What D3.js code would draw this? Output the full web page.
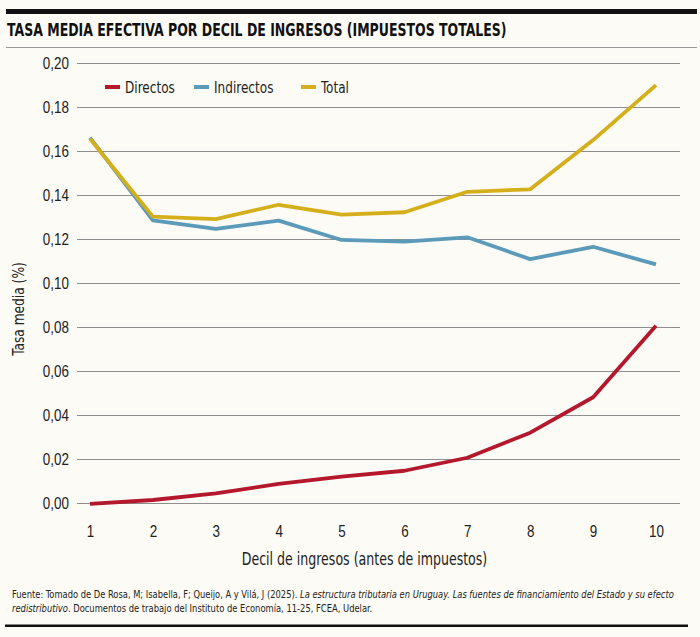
<!DOCTYPE html>
<html>
<head>
<meta charset="utf-8">
<script src="https://cdn.jsdelivr.net/npm/d3@7"></script>
<style>
  html, body { margin: 0; padding: 0; background: #fdfbf5; }
  svg { display: block; font-family: "Liberation Sans Narrow", "DejaVu Sans Condensed", sans-serif; }
</style>
</head>
<body>
<svg id="chart"></svg>
<script>
// data
const deciles = [1, 2, 3, 4, 5, 6, 7, 8, 9, 10];
const directos = [-0.0003, 0.0015, 0.0045, 0.0088, 0.0121, 0.0148, 0.0207, 0.0321, 0.0482, 0.0807];
const indirectos = [0.1662, 0.1286, 0.1247, 0.1285, 0.1197, 0.1189, 0.1209, 0.1110, 0.1166, 0.1086];
const total = [0.1657, 0.1303, 0.1292, 0.1357, 0.1312, 0.1323, 0.1416, 0.1427, 0.1651, 0.1901];
const yTicks = [0, 0.02, 0.04, 0.06, 0.08, 0.10, 0.12, 0.14, 0.16, 0.18, 0.20];

const series = [
  { name: "Directos", values: directos, color: "#b3182d" },
  { name: "Indirectos", values: indirectos, color: "#5b9bb9" },
  { name: "Total", values: total, color: "#d5af1b" },
];

const width = 700, height = 637;
const svg = d3.select("#chart").attr("width", width).attr("height", height);

svg.append("rect").attr("width", width).attr("height", height).attr("fill", "#fdfbf5");

// squeeze a text horizontally around its own anchor (no condensed web font here)
function squeeze(sel, x, y, k) {
  sel.attr("x", 0).attr("y", 0).attr("transform", `translate(${x},${y}) scale(${k},1)`);
}
// squeeze so the text is exactly w wide
function fitTo(sel, x, y, w) {
  const natural = sel.node().getComputedTextLength();
  squeeze(sel, x, y, w / natural);
}

// header rules + title
svg.append("rect").attr("x", 6).attr("y", 9).attr("width", 691).attr("height", 5).attr("fill", "#111");
svg.append("text")
  .style("font-size", "17.5px").style("font-weight", "bold").attr("fill", "#111")
  .text("TASA MEDIA EFECTIVA POR DECIL DE INGRESOS (IMPUESTOS TOTALES)")
  .call(fitTo, 7, 35.5, 500);
svg.append("line").attr("x1", 6).attr("x2", 697).attr("y1", 47.5).attr("y2", 47.5)
  .attr("stroke", "#9a9a9a").attr("stroke-width", 1);

// scales
const x = d3.scaleLinear().domain([1, 10]).range([90, 656]);
const y = d3.scaleLinear().domain([0, 0.2]).range([503.3, 63.3]);

// gridlines
svg.append("g")
  .selectAll("line")
  .data(yTicks)
  .join("line")
  .attr("x1", 77).attr("x2", 680)
  .attr("y1", (d) => Math.round(y(d)) + 0.5)
  .attr("y2", (d) => Math.round(y(d)) + 0.5)
  .attr("stroke", "#8e8e8e").attr("stroke-width", 1.2);

// y axis labels
const yAxis = d3.axisLeft(y).tickValues(yTicks).tickSize(0).tickPadding(0)
  .tickFormat((d) => d3.format(".2f")(d).replace(".", ","));
svg.append("g")
  .attr("transform", "translate(69,0)")
  .call(yAxis)
  .call((g) => g.select(".domain").remove())
  .call((g) => g.selectAll("text").attr("fill", "#222").style("font-size", "16px")
    .style("font-family", "inherit").attr("transform", "scale(0.84,1)"));

// x axis labels
const xAxis = d3.axisBottom(x).tickValues(deciles).tickSize(0).tickPadding(0).tickFormat(d3.format("d"));
svg.append("g")
  .attr("transform", "translate(0,526)")
  .call(xAxis)
  .call((g) => g.select(".domain").remove())
  .call((g) => g.selectAll("text").attr("fill", "#222").style("font-size", "16px")
    .style("font-family", "inherit").attr("transform", "scale(0.84,1)"));

// axis titles
svg.append("text")
  .attr("text-anchor", "middle").attr("fill", "#222")
  .style("font-size", "17.5px")
  .text("Decil de ingresos (antes de impuestos)")
  .call(squeeze, 364.5, 565, 0.8);
svg.append("text")
  .attr("text-anchor", "middle").attr("fill", "#222")
  .style("font-size", "16px")
  .text("Tasa media (%)")
  .attr("transform", "translate(24,309) rotate(-90) scale(0.85,1)");

// lines
const line = d3.line().x((d, i) => x(deciles[i])).y((d) => y(d));
svg.append("g")
  .selectAll("path")
  .data(series)
  .join("path")
  .attr("d", (d) => line(d.values))
  .attr("fill", "none")
  .attr("stroke", (d) => d.color)
  .attr("stroke-width", 3.8)
  .attr("stroke-linejoin", "round");

// legend
const legendX = [105, 194, 301];
const legend = svg.append("g")
  .selectAll("g")
  .data(series)
  .join("g")
  .attr("transform", (d, i) => `translate(${legendX[i]},87)`);
legend.append("rect").attr("x", 0).attr("y", -2).attr("width", 15).attr("height", 4)
  .attr("fill", (d) => d.color);
legend.append("text")
  .attr("fill", "#222").style("font-size", "16px")
  .text((d) => d.name)
  .each(function () { squeeze(d3.select(this), 20, 5.5, 0.84); });

// source note
const note = svg.append("g").attr("fill", "#222").style("font-size", "10.5px");
const l1 = note.append("text");
l1.append("tspan").text("Fuente: Tomado de De Rosa, M; Isabella, F; Queijo, A y Vilá, J (2025). ");
l1.append("tspan").style("font-style", "italic")
  .text("La estructura tributaria en Uruguay. Las fuentes de financiamiento del Estado y su efecto");
fitTo(l1, 12, 598, 663);
const l2 = note.append("text");
l2.append("tspan").style("font-style", "italic").text("redistributivo");
l2.append("tspan").text(". Documentos de trabajo del Instituto de Economía, 11-25, FCEA, Udelar.");
fitTo(l2, 12, 611.5, 361);

svg.append("rect").attr("x", 5).attr("y", 624.5).attr("width", 683).attr("height", 2.5).attr("fill", "#111");
</script>
</body>
</html>
